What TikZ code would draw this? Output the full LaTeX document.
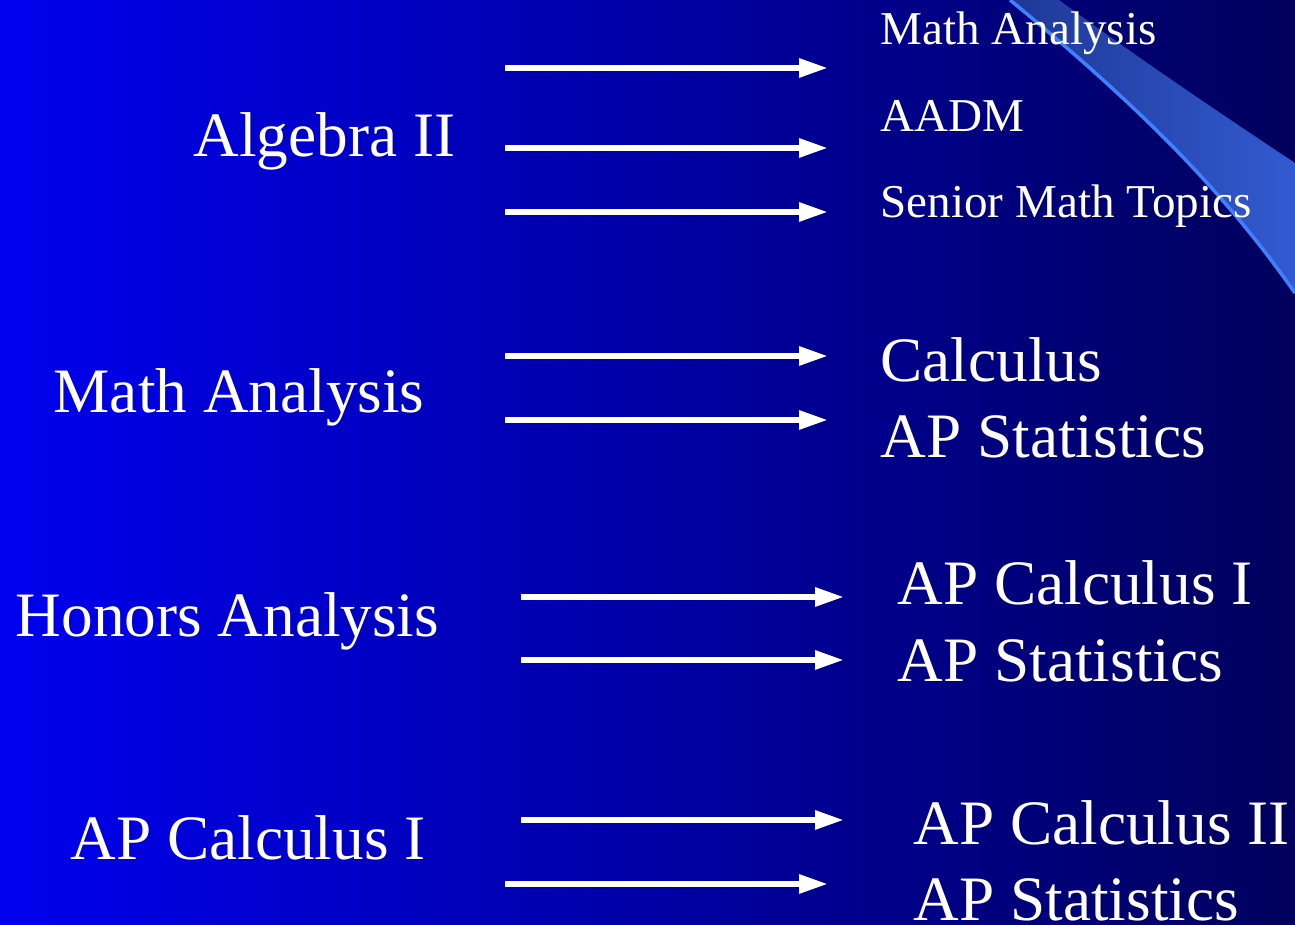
\documentclass[tikz,border=0pt]{standalone}
\usepackage{fontspec}
\setmainfont{Liberation Serif}
\usepackage{xcolor}
\usetikzlibrary{arrows.meta}
\definecolor{slideLeft}{RGB}{0,0,238}
\definecolor{slideMid}{RGB}{0,0,196}
\definecolor{slideRight}{RGB}{0,0,92}
\definecolor{swooshDark}{RGB}{30,56,150}
\definecolor{swooshLight}{RGB}{50,90,208}
\definecolor{swooshEdge}{RGB}{64,128,255}
\tikzset{
  course/.style={text=white, font=\fontsize{18}{20}\selectfont, anchor=base west, inner sep=0pt},
  option/.style={text=white, font=\fontsize{13.4}{15}\selectfont, anchor=base west, inner sep=0pt},
  lead/.style={white, line width=1.7pt, -{Triangle[length=2.9mm, width=1.8mm]}}
}

\begin{document}
\begin{tikzpicture}
\useasboundingbox (0,0) rectangle (12.95,-9.25);
% Background
\shade[left color=slideLeft, middle color=slideMid, right color=slideRight] (0,0) rectangle (12.95,-9.25);
% Swoosh
\shade[left color=swooshDark, right color=swooshLight] (10.10,0) .. controls (11.5,-1.15) and (12.3,-2.0) .. (12.95,-2.93) -- (12.95,-1.63) .. controls (12.0,-1.0) and (11.2,-0.45) .. (10.59,0) -- cycle;
\draw[swooshEdge, line width=1pt] (10.10,0) .. controls (11.5,-1.15) and (12.3,-2.0) .. (12.95,-2.93);

% Courses
\node[course] (alg) at (1.93,-1.57) {Algebra II};
\node[course] (ma) at (0.53,-4.13) {Math Analysis};
\node[course] (ha) at (0.15,-6.37) {Honors Analysis};
\node[course] (apc) at (0.70,-8.60) {AP Calculus I};

% Next courses
\node[option] (algMa) at (8.80,-0.45) {Math Analysis};
\node[option] (algAadm) at (8.80,-1.32) {AADM};
\node[option] (algSmt) at (8.80,-2.18) {Senior Math Topics};
\node[course] (maCalc) at (8.80,-3.82) {Calculus};
\node[course] (maStat) at (8.80,-4.58) {AP Statistics};
\node[course] (haCalc) at (8.97,-6.05) {AP Calculus I};
\node[course] (haStat) at (8.97,-6.82) {AP Statistics};
\node[course] (apcCalc) at (9.13,-8.45) {AP Calculus II};
\node[course] (apcStat) at (9.13,-9.21) {AP Statistics};

% Arrow ends
\coordinate (s1) at (5.05,-0.68); \coordinate (e1) at (8.28,-0.68);
\coordinate (s2) at (5.05,-1.48); \coordinate (e2) at (8.28,-1.48);
\coordinate (s3) at (5.05,-2.12); \coordinate (e3) at (8.28,-2.12);
\coordinate (s4) at (5.05,-3.56); \coordinate (e4) at (8.28,-3.56);
\coordinate (s5) at (5.05,-4.20); \coordinate (e5) at (8.28,-4.20);
\coordinate (s6) at (5.21,-5.97); \coordinate (e6) at (8.44,-5.97);
\coordinate (s7) at (5.21,-6.60); \coordinate (e7) at (8.44,-6.60);
\coordinate (s8) at (5.21,-8.20); \coordinate (e8) at (8.44,-8.20);
\coordinate (s9) at (5.05,-8.84); \coordinate (e9) at (8.28,-8.84);

% Arrows
\draw[lead] (s1) -- (e1);
\draw[lead] (s2) -- (e2);
\draw[lead] (s3) -- (e3);
\draw[lead] (s4) -- (e4);
\draw[lead] (s5) -- (e5);
\draw[lead] (s6) -- (e6);
\draw[lead] (s7) -- (e7);
\draw[lead] (s8) -- (e8);
\draw[lead] (s9) -- (e9);
\end{tikzpicture}
\end{document}
